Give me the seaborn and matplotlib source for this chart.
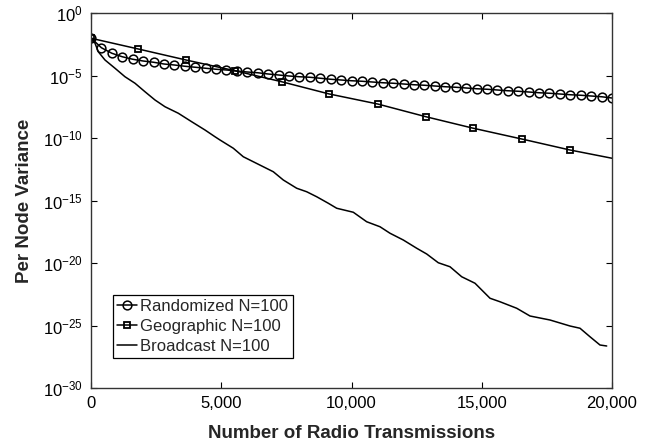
import numpy as np
import pandas as pd
import matplotlib
matplotlib.use("Agg")
import matplotlib.pyplot as plt
import seaborn as sns
from matplotlib.ticker import FuncFormatter, NullLocator

# ---- data (log10 of per-node variance) ----
rand_x = list(range(0, 20001, 400))
rand_log = [-2.0, -2.78, -3.22, -3.5, -3.7, -3.84, -3.94, -4.08, -4.16, -4.26,
            -4.34, -4.42, -4.5, -4.56, -4.64, -4.72, -4.78, -4.88, -4.96, -5.04,
            -5.1, -5.14, -5.22, -5.3, -5.36, -5.42, -5.46, -5.52, -5.58, -5.62,
            -5.68, -5.74, -5.78, -5.84, -5.9, -5.94, -6.0, -6.06, -6.1, -6.16,
            -6.22, -6.26, -6.32, -6.38, -6.42, -6.48, -6.54, -6.58, -6.64, -6.7,
            -6.8]

geo_x = [0, 1816, 3647, 5528, 7320, 9148, 11005, 12860, 14676, 16534, 18388, 20000]
geo_log = [-2.02, -2.88, -3.76, -4.62, -5.5, -6.48, -7.28, -8.3, -9.22, -10.08,
           -10.96, -11.62]

bc_x = [0, 154, 280, 537, 921, 1305, 1689, 2073, 2457, 2841, 3351, 3866, 4376,
        4760, 4952, 5463, 5846, 6230, 6614, 6998, 7382, 7896, 8280, 8664, 9109,
        9432, 10069, 10583, 11094, 11478, 11988, 12503, 12887, 13332, 13781,
        14230, 14741, 15317, 15700, 16341, 16852, 17620, 18388, 18772, 19155,
        19539, 19796]
bc_log = [-2.0, -2.42, -3.1, -3.76, -4.42, -5.1, -5.62, -6.3, -6.96, -7.5, -8.02,
          -8.7, -9.36, -9.9, -10.16, -10.82, -11.5, -11.9, -12.3, -12.7, -13.36,
          -14.02, -14.3, -14.7, -15.22, -15.62, -15.94, -16.7, -17.1, -17.62,
          -18.16, -18.82, -19.28, -19.98, -20.3, -21.1, -21.62, -22.82, -23.1,
          -23.62, -24.24, -24.56, -25.04, -25.22, -25.9, -26.56, -26.64]

labels = ["Randomized N=100", "Geographic N=100", "Broadcast N=100"]
x_ticks = [0, 5000, 10000, 15000, 20000]
y_exponents = [0, -5, -10, -15, -20, -25, -30]

# ---- style ----
sns.set_style("ticks")
plt.rcParams['font.family'] = ['Liberation Sans', 'DejaVu Sans']
plt.rcParams['mathtext.fontset'] = 'custom'
plt.rcParams['mathtext.rm'] = 'Liberation Sans'
plt.rcParams['mathtext.it'] = 'Liberation Sans:italic'
plt.rcParams['mathtext.bf'] = 'Liberation Sans:bold'

fig = plt.figure(figsize=(6.52, 4.45), dpi=100)
ax = fig.add_axes([91/652, 1-388/445, (612-91)/652, (388-13)/445])
ax.set_yscale('log')

rand_df = pd.DataFrame({"x": rand_x, "y": np.power(10.0, rand_log)})
geo_df = pd.DataFrame({"x": geo_x, "y": np.power(10.0, geo_log)})
bc_df = pd.DataFrame({"x": bc_x, "y": np.power(10.0, bc_log)})

sns.lineplot(data=rand_df, x="x", y="y", ax=ax, color="black", linewidth=1.1,
             marker="o", markersize=6.3, fillstyle="none", markeredgewidth=1.1,
             markeredgecolor="black", estimator=None, label=labels[0])
sns.lineplot(data=geo_df, x="x", y="y", ax=ax, color="black", linewidth=1.1,
             marker="s", markersize=5, fillstyle="none", markeredgewidth=1.3,
             markeredgecolor="black", markevery=list(range(len(geo_x)-1)),
             estimator=None, label=labels[1])
sns.lineplot(data=bc_df, x="x", y="y", ax=ax, color="black", linewidth=1.1,
             estimator=None, label=labels[2])

ax.set_xlim(0, 20000)
ax.set_ylim(1e-30, 1e0)
ax.set_xticks(x_ticks)
ax.xaxis.set_major_formatter(FuncFormatter(lambda v, p: f"{v:,.0f}"))
ax.set_yticks([10.0**k for k in y_exponents])
ax.yaxis.set_minor_locator(NullLocator())
ax.yaxis.set_major_formatter(FuncFormatter(lambda v, p: r"$10^{%d}$" % round(np.log10(v))))

for s in ax.spines.values():
    s.set_color("#333333")
    s.set_linewidth(1.0)
ax.tick_params(which='both', direction='in', top=True, right=True, length=4,
               width=0.8, labelsize=12, colors="black", pad=6)

ax.set_xlabel("Number of Radio Transmissions", fontsize=13.5, fontweight='bold', labelpad=10)
ax.set_ylabel("Per Node Variance", fontsize=13.5, fontweight='bold', labelpad=7)

leg = ax.legend(loc='lower left', bbox_to_anchor=(0.042, 0.08), borderaxespad=0,
                fontsize=12, handlelength=1.2, handletextpad=0.2, labelspacing=0.3,
                borderpad=0.25, frameon=True, fancybox=False, shadow=False)
leg.get_frame().set_edgecolor("black")
leg.get_frame().set_linewidth(0.9)
leg.get_frame().set_alpha(1)

fig.savefig("out.png", dpi=100)
